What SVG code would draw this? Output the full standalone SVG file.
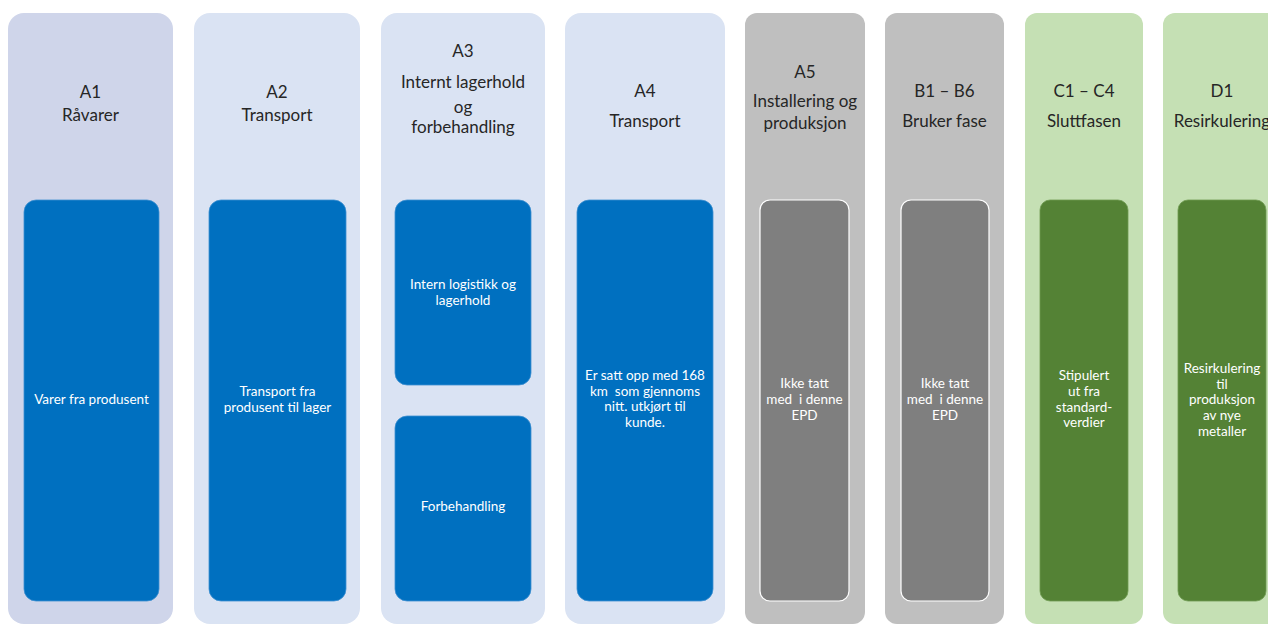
<svg xmlns="http://www.w3.org/2000/svg" width="1268" height="625" viewBox="0 0 1268 625">
<style>
.hd{font-family:Lato,"Liberation Sans",sans-serif;font-size:17px;fill:#262626;text-anchor:middle}
.in{font-family:Lato,"Liberation Sans",sans-serif;font-size:13.5px;fill:#ffffff;text-anchor:middle}
.ob{fill:#DAE3F3}
.blue{fill:#0070C0;stroke:#3D8FD0;stroke-width:0.8}
.gray{fill:#BFBFBF}
.gin{fill:#7F7F7F;stroke:#ffffff;stroke-width:1.2}
.grn{fill:#C5E0B4}
.gnin{fill:#548235;stroke:#6E9A50;stroke-width:0.8}
</style>
<rect width="1268" height="625" fill="#ffffff"/>
<g id="A1">
<rect x="8" y="13" width="165" height="611" rx="16" fill="#CFD5EA"/>
<text class="hd" x="90.5" y="98">A1</text>
<text class="hd" x="90.5" y="121">Råvarer</text>
<rect class="blue" x="24" y="200" width="135" height="401" rx="12"/>
<text class="in" x="91.5" y="404">Varer fra produsent</text>
</g>
<g id="A2">
<rect class="ob" x="194" y="13" width="166" height="611" rx="16"/>
<text class="hd" x="277" y="98">A2</text>
<text class="hd" x="277" y="121">Transport</text>
<rect class="blue" x="209" y="200" width="137" height="401" rx="12"/>
<text class="in" x="277.5" y="396">Transport fra</text>
<text class="in" x="277.5" y="412">produsent til lager</text>
</g>
<g id="A3">
<rect class="ob" x="381" y="13" width="164" height="611" rx="16"/>
<text class="hd" x="463" y="57">A3</text>
<text class="hd" x="463" y="88">Internt lagerhold</text>
<text class="hd" x="463" y="113">og</text>
<text class="hd" x="463" y="133">forbehandling</text>
<rect class="blue" x="395" y="200" width="136" height="185" rx="12"/>
<text class="in" x="463" y="289">Intern logistikk og</text>
<text class="in" x="463" y="305">lagerhold</text>
<rect class="blue" x="395" y="416" width="136" height="185" rx="12"/>
<text class="in" x="463" y="511">Forbehandling</text>
</g>
<g id="A4">
<rect class="ob" x="565" y="13" width="160" height="611" rx="16"/>
<text class="hd" x="645" y="97">A4</text>
<text class="hd" x="645" y="127">Transport</text>
<rect class="blue" x="577" y="200" width="136" height="401" rx="12"/>
<text class="in" x="645" y="380">Er satt opp med 168</text>
<text class="in" x="645" y="396" xml:space="preserve">km  som gjennoms</text>
<text class="in" x="645" y="411">nitt. utkjørt til</text>
<text class="in" x="645" y="427">kunde.</text>
</g>
<g id="A5">
<rect class="gray" x="745" y="13" width="120" height="611" rx="12"/>
<text class="hd" x="805" y="78">A5</text>
<text class="hd" x="805" y="107">Installering og</text>
<text class="hd" x="805" y="129">produksjon</text>
<rect class="gin" x="760" y="200" width="89" height="401" rx="10"/>
<text class="in" x="804.5" y="388">Ikke tatt</text>
<text class="in" x="804.5" y="404" xml:space="preserve">med  i denne</text>
<text class="in" x="804.5" y="420">EPD</text>
</g>
<g id="B1-B6">
<rect class="gray" x="885" y="13" width="119" height="611" rx="12"/>
<text class="hd" x="944.5" y="97">B1 – B6</text>
<text class="hd" x="944.5" y="127">Bruker fase</text>
<rect class="gin" x="901" y="200" width="88" height="401" rx="10"/>
<text class="in" x="945" y="388">Ikke tatt</text>
<text class="in" x="945" y="404" xml:space="preserve">med  i denne</text>
<text class="in" x="945" y="420">EPD</text>
</g>
<g id="C1-C4">
<rect class="grn" x="1025" y="13" width="118" height="611" rx="12"/>
<text class="hd" x="1084" y="97">C1 – C4</text>
<text class="hd" x="1084" y="127">Sluttfasen</text>
<rect class="gnin" x="1040" y="200" width="88" height="401" rx="10"/>
<text class="in" x="1084" y="380">Stipulert</text>
<text class="in" x="1084" y="396">ut fra</text>
<text class="in" x="1084" y="412">standard-</text>
<text class="in" x="1084" y="427">verdier</text>
</g>
<g id="D1">
<rect class="grn" x="1163" y="13" width="118" height="611" rx="12"/>
<text class="hd" x="1222" y="97">D1</text>
<text class="hd" x="1222" y="127">Resirkulering</text>
<rect class="gnin" x="1178" y="200" width="88" height="401" rx="10"/>
<text class="in" x="1222" y="373">Resirkulering</text>
<text class="in" x="1222" y="389">til</text>
<text class="in" x="1222" y="404">produksjon</text>
<text class="in" x="1222" y="420">av nye</text>
<text class="in" x="1222" y="436">metaller</text>
</g>
<g id="connectors"/>
</svg>
